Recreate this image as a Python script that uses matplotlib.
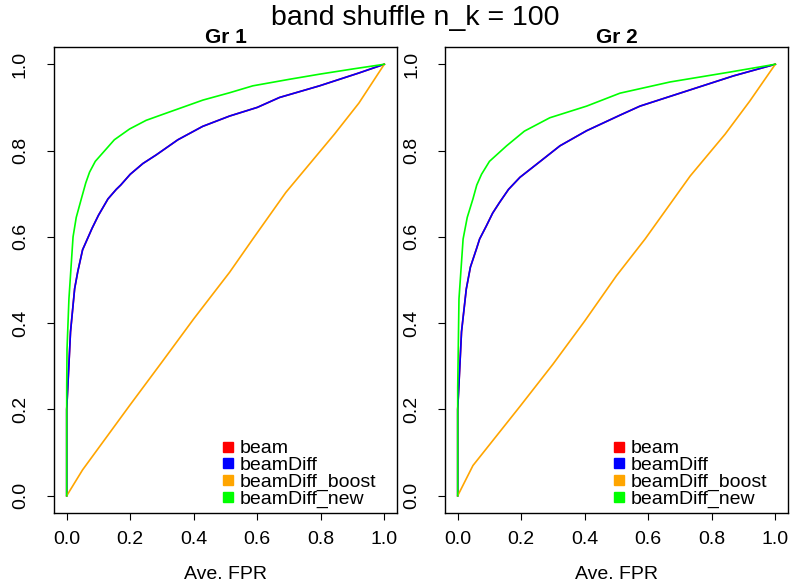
import matplotlib
matplotlib.use("Agg")
import matplotlib.pyplot as plt
from matplotlib.lines import Line2D

# ROC curves (Ave. FPR vs TPR), one panel per group
gr1_diff_fpr = [0, 0, 0.004, 0.012, 0.025, 0.035, 0.05, 0.065, 0.08, 0.1, 0.13, 0.156,
                0.17, 0.2, 0.24, 0.282, 0.35, 0.428, 0.513, 0.6, 0.67, 0.796, 0.921, 1.0]
gr1_diff_tpr = [0, 0.2, 0.26, 0.38, 0.48, 0.52, 0.57, 0.595, 0.62, 0.65, 0.688, 0.71,
                0.72, 0.745, 0.77, 0.79, 0.825, 0.856, 0.88, 0.9, 0.923, 0.95, 0.98, 1.0]
gr1_new_fpr = [0, 0, 0.001, 0.007, 0.02, 0.03, 0.046, 0.06, 0.072, 0.09, 0.114, 0.15,
               0.198, 0.25, 0.303, 0.429, 0.513, 0.586, 0.7, 0.796, 0.9, 1.0]
gr1_new_tpr = [0, 0.25, 0.34, 0.456, 0.6, 0.645, 0.688, 0.725, 0.75, 0.775, 0.795, 0.825,
               0.85, 0.87, 0.884, 0.917, 0.934, 0.95, 0.965, 0.977, 0.989, 1.0]
gr1_boost_fpr = [0, 0.05, 0.198, 0.3, 0.4, 0.513, 0.586, 0.69, 0.843, 0.92, 1.0]
gr1_boost_tpr = [0, 0.06, 0.209, 0.31, 0.41, 0.518, 0.595, 0.703, 0.838, 0.91, 1.0]

gr2_diff_fpr = [0, 0, 0.004, 0.012, 0.027, 0.04, 0.059, 0.069, 0.09, 0.11, 0.132, 0.16,
                0.196, 0.26, 0.322, 0.406, 0.511, 0.574, 0.721, 0.868, 1.0]
gr2_diff_tpr = [0, 0.2, 0.26, 0.38, 0.479, 0.53, 0.572, 0.595, 0.625, 0.655, 0.68,
                0.71, 0.738, 0.775, 0.811, 0.846, 0.882, 0.903, 0.938, 0.973, 1.0]
gr2_new_fpr = [0, 0, 0.004, 0.017, 0.03, 0.048, 0.06, 0.075, 0.1, 0.154, 0.21, 0.29,
               0.406, 0.511, 0.669, 0.858, 1.0]
gr2_new_tpr = [0, 0.25, 0.456, 0.595, 0.645, 0.688, 0.72, 0.745, 0.775, 0.811, 0.845,
               0.876, 0.903, 0.933, 0.959, 0.982, 1.0]
gr2_boost_fpr = [0, 0.048, 0.196, 0.3, 0.4, 0.5, 0.59, 0.732, 0.842, 0.92, 1.0]
gr2_boost_tpr = [0, 0.07, 0.207, 0.305, 0.405, 0.51, 0.595, 0.741, 0.838, 0.915, 1.0]

methods = ["beam", "beamDiff", "beamDiff_boost", "beamDiff_new"]
colors = ["#FF0000", "#0000FF", "#FFA500", "#00FF00"]
ticks = [0.0, 0.2, 0.4, 0.6, 0.8, 1.0]
tick_labels = ["0.0", "0.2", "0.4", "0.6", "0.8", "1.0"]

plt.rcParams["font.family"] = ["Liberation Sans", "DejaVu Sans"]


def draw_panel(ax, title, diff, boost, new):
    # beam and beamDiff coincide, so red sits under blue
    ax.plot(diff[0], diff[1], color=colors[0], lw=1.2)
    ax.plot(diff[0], diff[1], color=colors[1], lw=1.2)
    ax.plot(boost[0], boost[1], color=colors[2], lw=1.2)
    ax.plot(new[0], new[1], color=colors[3], lw=1.2)
    ax.set_xlim(-0.04, 1.04)
    ax.set_ylim(-0.04, 1.04)
    ax.set_xticks(ticks)
    ax.set_xticklabels(tick_labels)
    ax.set_yticks(ticks)
    ax.set_yticklabels(tick_labels, rotation=90, va="center")
    ax.tick_params(direction="out", length=5, width=0.8, labelsize=14, pad=8)
    ax.tick_params(axis="y", pad=13)
    for s in ax.spines.values():
        s.set_linewidth(1.0)
    ax.set_xlabel("Ave. FPR", fontsize=14, labelpad=13)
    ax.set_title(title, fontsize=15, fontweight="bold", pad=0.5)
    handles = [Line2D([], [], marker="s", linestyle="none", color=c, markersize=7)
               for c in colors]
    ax.legend(handles, methods, loc="lower left", bbox_to_anchor=(0.45, -0.018),
              frameon=False, fontsize=14, handlelength=0.6, handletextpad=0.3,
              labelspacing=-0.05, borderpad=0.2)


fig = plt.figure(figsize=(7.9, 5.82), dpi=100)
ax1 = fig.add_axes([54 / 790, 1 - 513 / 582, 343 / 790, 466 / 582])
ax2 = fig.add_axes([445 / 790, 1 - 513 / 582, 343 / 790, 466 / 582])

draw_panel(ax1, "Gr 1", (gr1_diff_fpr, gr1_diff_tpr), (gr1_boost_fpr, gr1_boost_tpr),
           (gr1_new_fpr, gr1_new_tpr))
draw_panel(ax2, "Gr 2", (gr2_diff_fpr, gr2_diff_tpr), (gr2_boost_fpr, gr2_boost_tpr),
           (gr2_new_fpr, gr2_new_tpr))

fig.text(415 / 790, 1 - 18 / 582, "band shuffle n_k = 100", fontsize=20.5,
         ha="center", va="center")

fig.savefig("out.png", dpi=100)
